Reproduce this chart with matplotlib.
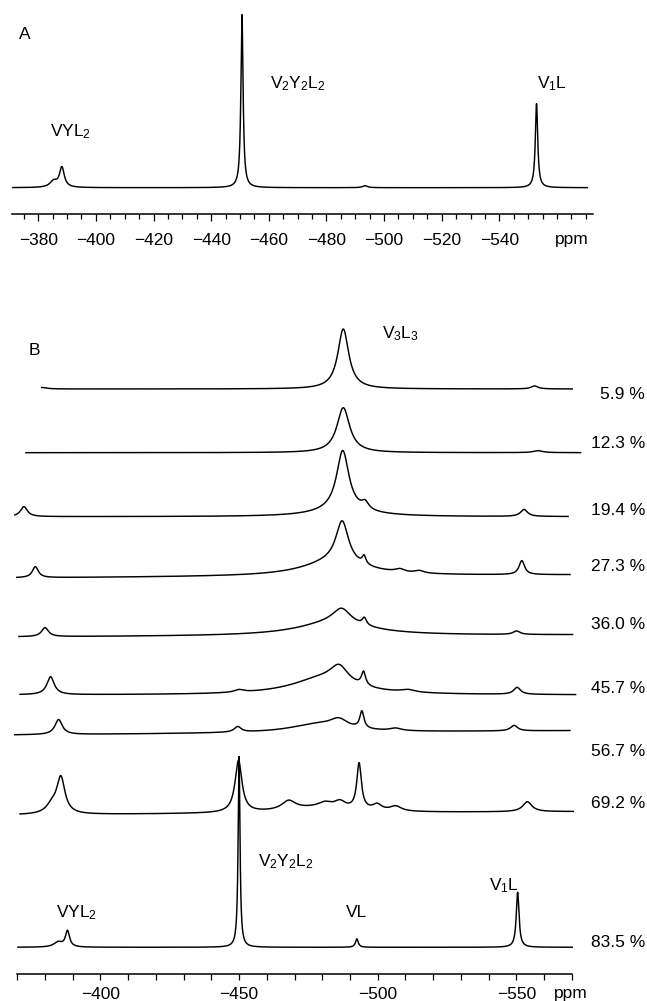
import numpy as np
import matplotlib
matplotlib.use("Agg")
import matplotlib.pyplot as plt
from matplotlib.ticker import MultipleLocator, FixedLocator

plt.rcParams['font.family'] = ['Liberation Sans', 'DejaVu Sans']
plt.rcParams['mathtext.fontset'] = 'custom'
plt.rcParams['mathtext.rm'] = 'Liberation Sans'
plt.rcParams['mathtext.it'] = 'Liberation Sans:italic'

# ---------------- data ----------------
# peaks: (shift in ppm, height, half width at half height in ppm)
peaks_a = [(-388.2, 20, 1.0), (-385.3, 6, 1.5), (-450.7, 173, 0.45),
           (-552.9, 84, 0.5), (-493.4, 2, 1.0)]
range_a = (-371.2, -570.5)

percent = ['5.9 %', '12.3 %', '19.4 %', '27.3 %', '36.0 %',
           '45.7 %', '56.7 %', '69.2 %', '83.5 %']

peaks_59 = [(-487.6, 60, 2.4), (-556.6, 3, 1.5), (-379.0, 1.5, 2.0)]
peaks_123 = [(-487.6, 45, 2.8), (-557.8, 2, 2.0)]
peaks_194 = [(-487.4, 60, 2.7), (-495.5, 7, 1.5), (-487.0, 6, 12),
             (-372.4, 10, 1.5), (-552.8, 7, 1.5)]
peaks_273 = [(-487.2, 42, 2.8), (-484.0, 14, 14), (-495.1, 8, 0.8),
             (-376.5, 11, 1.3), (-552.0, 14, 1.2), (-508.0, 3, 2.0),
             (-515.0, 2.5, 2.0)]
peaks_360 = [(-487.0, 15, 4.0), (-484.0, 13, 16), (-495.2, 7, 0.9),
             (-380.0, 9, 1.5), (-550.1, 3.5, 1.5)]
peaks_457 = [(-486.1, 17, 4.0), (-480.0, 16, 14), (-494.9, 13.5, 0.9),
             (-382.0, 18, 1.6), (-550.3, 7, 1.5), (-450.0, 2.5, 2.0),
             (-511.0, 2.5, 3.0)]
peaks_567 = [(-384.9, 15, 1.6), (-449.5, 5.5, 1.5), (-486.0, 9, 4.0),
             (-478.0, 8, 12), (-494.3, 17, 0.9), (-506.5, 2.5, 2.5),
             (-549.2, 5.5, 1.5)]
peaks_692 = [(-385.7, 36, 1.8), (-382.5, 8, 2.5), (-449.8, 52, 1.5),
             (-493.3, 46, 1.0), (-467.9, 9, 3.0), (-481.0, 5, 3.0),
             (-486.4, 7, 2.5), (-499.8, 6, 2.0), (-506.5, 5, 2.5),
             (-478.0, 5, 15), (-554.0, 10, 2.0)]
peaks_835 = [(-388.1, 16, 0.9), (-384.7, 5, 1.8), (-450.0, 191, 0.4),
             (-492.5, 8.5, 0.6), (-550.5, 55, 0.6)]

peaks_b = [peaks_59, peaks_123, peaks_194, peaks_273, peaks_360,
           peaks_457, peaks_567, peaks_692, peaks_835]
ranges_b = [(-378.8, -570.2), (-373.1, -573.2), (-369.1, -568.7),
            (-369.8, -569.4), (-370.6, -570.3), (-371.0, -571.4),
            (-369.1, -569.4), (-371.0, -570.6), (-370.2, -570.2)]

# ---------------- layout (pixels of the 647x1001 picture) ----------------
W, H = 647, 1001
offsets_b = [585.3, 521.6, 457.6, 396.3, 337.3, 279.3, 239.3, 159.3, 27.0]
tilt_b = [0, 0, 0, 3, 2, 0, 4.3, 3.3, 0]
label_base_b = [399, 447.7, 515, 570.7, 629, 692.7, 756, 808.3, 946.7]


def fx(x):
    return x / W


def fy(y):
    return 1 - y / H


def spectrum(x, peaks):
    y = np.zeros_like(x)
    for pos, h, w in peaks:
        y += h / (1 + ((x - pos) / w) ** 2)
    return y


fig = plt.figure(figsize=(W / 100, H / 100), dpi=100)
line_kw = dict(color='black', lw=1.05, clip_on=False)

# ---------------- panel A ----------------
ax_a = fig.add_axes([fx(12.3), fy(214), fx(593.3) - fx(12.3), 209 / H])
xa = np.linspace(range_a[0], range_a[1], 6000)
ax_a.plot(xa, 26.3 + spectrum(xa, peaks_a), **line_kw)
ax_a.set_xlim(-371.0, -572.6)
ax_a.set_ylim(0, 209)
ax_a.xaxis.set_major_locator(FixedLocator(np.arange(-380, -541, -20)))
ax_a.xaxis.set_minor_locator(MultipleLocator(5))
ax_a.tick_params(axis='x', which='major', length=5)
ax_a.tick_params(axis='x', which='both', direction='out',
                 width=0.9, labelsize=12.5, pad=9)
ax_a.tick_params(axis='x', which='minor', length=3.5)

# ---------------- panel B ----------------
ax_b = fig.add_axes([fx(17.3), fy(974.3), fx(571.7) - fx(17.3), (974.3 - 300) / H])
for pk, rg, off, tl in zip(peaks_b, ranges_b, offsets_b, tilt_b):
    xb = np.linspace(rg[0], rg[1], 6000)
    base = off + tl * (xb - rg[0]) / (rg[1] - rg[0])
    ax_b.plot(xb, base + spectrum(xb, pk), **line_kw)
ax_b.set_xlim(-370, -570)
ax_b.set_ylim(0, 974.3 - 300)
ax_b.xaxis.set_major_locator(FixedLocator([-400, -450, -500, -550]))
ax_b.xaxis.set_minor_locator(MultipleLocator(10))
ax_b.tick_params(axis='x', which='both', direction='out', length=4,
                 width=0.9, labelsize=12.5, pad=5)

for ax in (ax_a, ax_b):
    for s in ('top', 'left', 'right'):
        ax.spines[s].set_visible(False)
    ax.spines['bottom'].set_linewidth(1.1)
    ax.set_yticks([])
    ax.patch.set_alpha(0)

# ---------------- text ----------------
txt = dict(fontsize=12.5, va='baseline', color='black')
fig.text(fx(19.1), fy(39), 'A', **txt)
fig.text(fx(50.5), fy(136.7), r'VYL$_2$', **txt)
fig.text(fx(270), fy(88.3), r'V$_2$Y$_2$L$_2$', **txt)
fig.text(fx(537.3), fy(88.3), r'V$_1$L', **txt)
fig.text(fx(571.7), fy(244.3), 'ppm', ha='center', **txt)

fig.text(fx(28.7), fy(355), 'B', **txt)
fig.text(fx(381.7), fy(338.3), r'V$_3$L$_3$', **txt)
fig.text(fx(56.3), fy(917.3), r'VYL$_2$', **txt)
fig.text(fx(257.8), fy(866.7), r'V$_2$Y$_2$L$_2$', **txt)
fig.text(fx(346.2), fy(916.7), 'VL', **txt)
fig.text(fx(488.7), fy(890), r'V$_1$L', **txt)
fig.text(fx(570.3), fy(998.3), 'ppm', ha='center', **txt)

for lab, yb in zip(percent, label_base_b):
    fig.text(fx(645), fy(yb), lab, ha='right', **txt)

fig.savefig('out.png', dpi=100)
